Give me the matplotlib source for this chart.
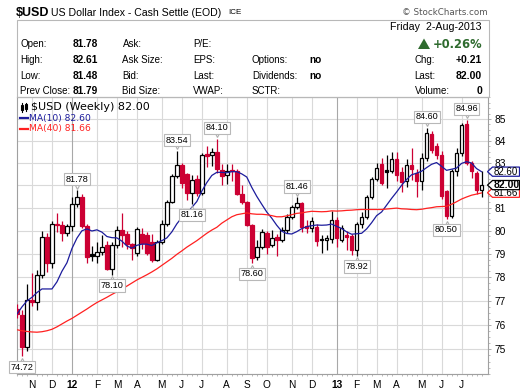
import matplotlib
matplotlib.use('Agg')
import matplotlib.pyplot as plt
from matplotlib.patches import Rectangle, Polygon
from matplotlib.lines import Line2D
from matplotlib.ticker import FixedLocator, NullFormatter
from matplotlib.transforms import offset_copy, IdentityTransform

W, H = 520, 391

# weekly bars, index 0 = week of 24-Oct-2011, 92 = week of 29-Jul-2013
bars = list(range(-1, 93))
opens = [76.66, 76.41, 75.09, 77.04, 76.95, 78.10, 79.73, 78.62, 80.30, 80.22,
         79.90, 80.18, 81.18, 81.48, 80.18, 78.98, 78.90, 79.09, 79.38, 78.35,
         79.38, 80.04, 79.85, 79.40, 79.03, 79.87, 79.80, 79.52, 78.75, 79.52,
         80.30, 81.27, 82.40, 82.88, 82.50, 81.64, 82.25, 81.64, 83.40, 83.35,
         83.50, 82.67, 82.44, 82.68, 82.63, 81.62, 81.23, 80.26, 78.84, 79.30,
         79.90, 79.38, 79.70, 79.60, 80.02, 80.60, 81.04, 81.22, 80.20, 80.12,
         80.15, 79.63, 79.58, 79.62, 80.45, 79.60, 79.80, 79.76, 79.17, 80.28,
         80.60, 81.48, 82.29, 82.96, 82.67, 82.63, 83.15, 82.60, 82.17, 82.92,
         82.55, 82.17, 83.22, 84.29, 83.75, 83.37, 81.72, 80.63, 82.62, 83.45,
         84.77, 83.00, 82.55, 81.78]
highs = [76.85, 76.60, 77.70, 78.18, 78.30, 80.00, 79.90, 80.40, 80.75, 80.40,
         80.30, 81.45, 81.78, 81.60, 80.30, 79.35, 79.50, 79.80, 79.55, 79.50,
         80.20, 80.75, 80.00, 79.45, 80.15, 80.13, 79.95, 79.85, 79.60, 80.45,
         81.35, 82.50, 83.54, 83.00, 82.55, 82.45, 82.45, 83.45, 83.75, 83.65,
         84.10, 82.95, 82.95, 82.95, 82.70, 82.00, 81.30, 80.30, 79.59, 80.05,
         80.00, 80.02, 79.87, 80.15, 80.70, 81.10, 81.46, 81.25, 80.45, 80.60,
         80.30, 79.80, 79.80, 80.85, 80.60, 80.25, 80.00, 79.85, 80.35, 80.80,
         81.55, 82.35, 82.97, 83.20, 83.35, 83.50, 83.50, 82.80, 83.15, 83.68,
         82.70, 83.45, 84.60, 84.45, 83.90, 83.55, 81.80, 82.70, 83.68, 84.80,
         84.96, 83.10, 82.65, 82.61]
lows = [76.30, 74.72, 74.95, 76.80, 76.60, 77.95, 78.20, 78.40, 79.95, 79.55,
        79.75, 80.00, 81.05, 80.10, 78.60, 78.70, 78.60, 78.95, 78.30, 78.10,
        79.25, 79.30, 79.20, 78.75, 78.90, 79.20, 78.95, 78.65, 78.67, 79.40,
        80.20, 81.20, 82.30, 81.85, 81.35, 81.16, 81.50, 81.55, 82.80, 82.85,
        82.55, 82.00, 82.04, 82.20, 81.55, 81.15, 80.20, 78.60, 78.75, 79.20,
        78.99, 79.30, 78.90, 79.50, 79.90, 80.50, 80.95, 79.95, 79.90, 79.95,
        79.35, 79.03, 79.17, 79.45, 79.30, 79.50, 79.17, 78.95, 78.92, 80.10,
        80.50, 81.40, 82.20, 82.00, 81.86, 82.55, 82.20, 81.70, 81.90, 82.24,
        81.45, 81.80, 83.10, 83.45, 83.15, 81.40, 80.50, 80.55, 82.40, 83.30,
        82.90, 82.30, 81.60, 81.48]
closes = [76.45, 75.09, 77.04, 76.95, 78.10, 79.73, 78.62, 80.30, 80.22, 79.90,
          80.18, 81.18, 81.48, 80.18, 78.87, 78.90, 79.09, 79.30, 78.35, 79.38,
          80.04, 79.80, 79.40, 79.25, 80.05, 79.45, 79.03, 78.75, 79.52, 80.30,
          81.27, 82.40, 82.88, 82.08, 81.64, 82.23, 81.64, 83.37, 83.30, 83.47,
          82.70, 82.40, 82.63, 82.62, 81.62, 81.23, 80.26, 78.80, 79.30, 79.95,
          79.30, 79.66, 79.60, 80.02, 80.60, 81.04, 81.22, 80.15, 80.12, 80.40,
          79.56, 79.58, 79.66, 80.45, 79.66, 80.10, 79.70, 79.17, 80.28, 80.60,
          81.48, 82.29, 82.75, 82.10, 82.60, 83.16, 82.45, 82.15, 82.90, 82.70,
          82.17, 83.22, 84.36, 83.60, 83.37, 81.50, 80.63, 82.62, 83.45, 84.74,
          83.00, 82.65, 81.79, 82.00]
ma10 = [76.45, 76.75, 77.00, 77.15, 77.35, 77.50, 77.50, 77.50, 77.80, 78.25,
        78.61, 79.22, 79.67, 79.99, 80.07, 79.98, 80.03, 79.93, 79.74, 79.69,
        79.68, 79.54, 79.33, 79.24, 79.36, 79.41, 79.41, 79.35, 79.47, 79.56,
        79.68, 79.94, 80.29, 80.57, 80.73, 81.01, 81.27, 81.73, 82.11, 82.43,
        82.57, 82.57, 82.55, 82.60, 82.60, 82.50, 82.36, 81.90, 81.50, 81.15,
        80.81, 80.54, 80.23, 79.97, 79.87, 79.85, 79.95, 80.08, 80.17, 80.21,
        80.24, 80.23, 80.24, 80.28, 80.18, 80.09, 79.94, 79.84, 79.86, 79.88,
        80.07, 80.34, 80.65, 80.81, 81.11, 81.41, 81.69, 81.99, 82.25, 82.46,
        82.53, 82.62, 82.78, 82.93, 83.01, 82.84, 82.66, 82.71, 82.76, 82.97,
        83.05, 82.99, 82.74, 82.60]
ma40 = [75.80, 75.76, 75.73, 75.71, 75.70, 75.72, 75.76, 75.82, 75.92, 76.04,
        76.16, 76.27, 76.40, 76.53, 76.66, 76.80, 76.93, 77.04, 77.15, 77.27,
        77.38, 77.50, 77.62, 77.75, 77.88, 77.99, 78.10, 78.22, 78.35, 78.50,
        78.65, 78.80, 78.97, 79.12, 79.28, 79.42, 79.56, 79.72, 79.88, 80.02,
        80.14, 80.32, 80.46, 80.60, 80.69, 80.73, 80.77, 80.73, 80.71, 80.71,
        80.69, 80.65, 80.60, 80.60, 80.64, 80.69, 80.75, 80.77, 80.81, 80.84,
        80.83, 80.82, 80.83, 80.86, 80.85, 80.86, 80.88, 80.89, 80.91, 80.92,
        80.92, 80.92, 80.92, 80.92, 80.94, 80.96, 80.98, 80.95, 80.94, 80.92,
        80.91, 80.93, 80.97, 81.00, 81.04, 81.05, 81.06, 81.15, 81.26, 81.38,
        81.47, 81.55, 81.60, 81.65]

month_pos = [2, 6, 10, 15, 19, 23, 28, 32, 36, 41, 45, 49, 54, 58, 63, 67, 71, 75, 80, 84, 88]
month_labels = ['N', 'D', '12', 'F', 'M', 'A', 'M', 'J', 'J', 'A', 'S', 'O', 'N', 'D', '13',
                'F', 'M', 'A', 'M', 'J', 'J']
year_labels = ['12', '13']
price_ticks = [75, 76, 77, 78, 79, 80, 81, 82, 83, 84, 85]

# swing labels: bar index and whether it marks the high or the low
swing_bars = [0, 11, 18, 31, 34, 39, 46, 55, 67, 81, 85, 89]
swing_side = ['low', 'high', 'low', 'high', 'low', 'high', 'low', 'high', 'low', 'high', 'low', 'high']

info_rows = [
    ['Open:', '81.78', 'Ask:', 'P/E:', '', ''],
    ['High:', '82.61', 'Ask Size:', 'EPS:', 'Options:', 'no'],
    ['Low:', '81.48', 'Bid:', 'Last:', 'Dividends:', 'no'],
    ['Prev Close:', '81.79', 'Bid Size:', 'VWAP:', 'SCTR:', ''],
]
right_rows = [['', ''], ['Chg:', '+0.21'], ['Last:', '82.00'], ['Volume:', '0']]

RED = '#cc0033'
BLUE = '#1c1c9c'
MARED = '#ff2020'
GRID = '#d9d9d9'
YEARGRID = '#a8a8a8'
FRAME = '#a0a0a0'
ARIAL = 'Liberation Sans'


def fx(px):
    return px / W


def fy(py):
    return 1 - py / H


fig = plt.figure(figsize=(W / 100, H / 100), dpi=100)
fig.patch.set_facecolor('white')

ax = fig.add_axes([fx(17), fy(374), fx(488) - fx(17), fy(97) - fy(374)])
ax.set_yscale('log')
ax.set_xlim(-0.9, 93.3)
ax.set_ylim(74.0, 86.02)

# grid
for v in range(74, 87):
    ax.axhline(v, color=GRID, lw=0.8, zorder=0)
for p, lab in zip(month_pos, month_labels):
    ax.axvline(p, color=YEARGRID if lab in year_labels else GRID, lw=0.8, zorder=0)

# candles
prev = opens[0]
for x, o, h, l, c in zip(bars, opens, highs, lows, closes):
    col = RED if c < prev else 'black'
    face = col if c < o else 'white'
    ax.vlines(x, l, h, color=col, lw=0.9, zorder=3)
    lo, hi = min(o, c), max(o, c)
    ax.add_patch(Rectangle((x - 0.36, lo), 0.72, hi - lo, fc=face, ec=col,
                           lw=0.9, zorder=4))
    prev = c

ax.plot(bars, ma10, color=BLUE, lw=0.9, zorder=5)
ax.plot(bars, ma40, color=MARED, lw=0.9, zorder=5)

# swing labels
for b, side in zip(swing_bars, swing_side):
    k = bars.index(b)
    v = highs[k] if side == 'high' else lows[k]
    dy = 7.8 if side == 'high' else -7.8
    tri = offset_copy(ax.transData, fig=fig, x=0, y=(4.5 if dy > 0 else -4.5), units='dots')
    ax.plot([b], [v], marker='v' if dy > 0 else '^', ms=4.5, mfc='white', mec='#b0b0b0',
            mew=0.8, transform=tri, zorder=6, clip_on=False)
    ax.annotate(f'{v:.2f}', xy=(b, v), xytext=(0, dy), textcoords='offset points',
                ha='center', va='center', fontsize=6.6, family=ARIAL,
                annotation_clip=False, zorder=7,
                bbox=dict(boxstyle='square,pad=0.18', fc='white', ec='#b8b8b8', lw=0.8))

# axes styling
for s in ax.spines.values():
    s.set_color(FRAME)
    s.set_linewidth(0.8)
ax.yaxis.tick_right()
ax.yaxis.set_major_locator(FixedLocator(price_ticks))
ax.set_yticklabels([str(t) for t in price_ticks], family=ARIAL)
ax.yaxis.set_minor_locator(FixedLocator([74 + 0.25 * k for k in range(49)]))
ax.yaxis.set_minor_formatter(NullFormatter())
ax.tick_params(axis='y', which='major', length=2, width=0.6, color=FRAME, pad=3,
               labelsize=7.3)
ax.tick_params(axis='y', which='minor', length=1.5, width=0.5, color=FRAME)
ax.set_xticks(month_pos)
ax.set_xticklabels(month_labels, family=ARIAL)
for t in ax.get_xticklabels():
    if t.get_text() in year_labels:
        t.set_fontweight('bold')
ax.set_xticks(bars, minor=True)
ax.tick_params(axis='x', which='major', length=0, pad=4, labelsize=7.3)
ax.tick_params(axis='x', which='minor', length=1.5, width=0.5, color=FRAME)

# legend block
fig.text(fx(31), fy(107.5), r'\$USD (Weekly) 82.00', fontsize=8, va='center', ha='left')
fig.text(fx(29), fy(118.3), 'MA(10) 82.60', fontsize=6.6, va='center', ha='left', color=BLUE)
fig.text(fx(29), fy(129), 'MA(40) 81.66', fontsize=6.6, va='center', ha='left', color=MARED)
fig.add_artist(Line2D([fx(20), fx(28)], [fy(118.3)] * 2, color=BLUE, lw=1.6))
fig.add_artist(Line2D([fx(20), fx(28)], [fy(129)] * 2, color=MARED, lw=1.6))
fig.add_artist(Line2D([fx(21.5)] * 2, [fy(103), fy(112)], color='black', lw=0.8))
fig.add_artist(Rectangle((fx(20.5), fy(110)), fx(2), fy(105) - fy(110), fc='white',
                         ec='black', lw=0.8))
fig.add_artist(Line2D([fx(25.5)] * 2, [fy(102.5), fy(111)], color='black', lw=0.8))
fig.add_artist(Rectangle((fx(24.5), fy(109)), fx(2), fy(104) - fy(109), fc='black',
                         ec='black', lw=0.8))

# right-edge price tags
fig.canvas.draw()


def tag(value, text, ec, bold, z):
    yd = ax.transData.transform((0, value))[1]
    x0, x1, hh = 487.5, 519.5, 4.6
    pts = [(x0, yd), (x0 + 5, yd + hh), (x1, yd + hh), (x1, yd - hh), (x0 + 5, yd - hh)]
    fig.add_artist(Polygon(pts, closed=True, fc='white', ec=ec, lw=0.9,
                           transform=IdentityTransform(), zorder=z))
    fig.text((x0 + 5.5 + x1) / 2 / W, yd / H, text, ha='center', va='center',
             fontsize=7.5 if bold else 7, fontweight='bold' if bold else 'normal',
             family=ARIAL, zorder=z + 0.5)


tag(81.66, '81.66', MARED, False, 10)
tag(82.60, '82.60', BLUE, False, 11)
tag(82.00, '82.00', 'black', True, 12)

# header
fig.text(fx(16), fy(12.8), r'\$USD', fontsize=9, fontweight='bold', va='center',
         family=ARIAL)
fig.text(fx(51), fy(12.8), 'US Dollar Index - Cash Settle (EOD)', fontsize=7.6,
         va='center', family=ARIAL)
fig.text(fx(228), fy(13), 'ICE', fontsize=5.8, va='center', family=ARIAL)
fig.text(fx(488), fy(12.5), '\u00a9 StockCharts.com', fontsize=6.3, va='center', ha='right',
         color='#555555')

fig.add_artist(Rectangle((fx(16.5), fy(97)), fx(488.5) - fx(16.5), fy(19.5) - fy(97),
                         fc='none', ec='#b8b8b8', lw=0.8))

row_y = [44, 60, 76, 91]
col_x = [20.5, 72.5, 122.5, 193, 252, 309]
for ry, row in zip(row_y, info_rows):
    for cx, cell, k in zip(col_x, row, range(6)):
        if not cell:
            continue
        bold = k in (1, 5)
        fig.text(fx(cx), fy(ry), cell, fontsize=7.3 if bold else 7,
                 fontweight='bold' if bold else 'normal', va='center', family=ARIAL)
for ry, (lab, val) in zip(row_y, right_rows):
    if lab:
        fig.text(fx(414.5), fy(ry), lab, fontsize=7, va='center', family=ARIAL)
        fig.text(fx(482), fy(ry), val, fontsize=7.5, fontweight='bold', va='center',
                 ha='right', family=ARIAL)

fig.text(fx(482), fy(27.5), 'Friday  2-Aug-2013', fontsize=7.7, va='center', ha='right',
         family=ARIAL)
fig.text(fx(482), fy(44), '+0.26%', fontsize=8.3, fontweight='bold', va='center',
         ha='right', color='#2f6b2f')
fig.add_artist(Polygon([(fx(418), fy(49)), (fx(430), fy(49)), (fx(424), fy(38.5))],
                       closed=True, fc='#2f6b2f', ec='none'))

fig.savefig('out.png', dpi=100)
